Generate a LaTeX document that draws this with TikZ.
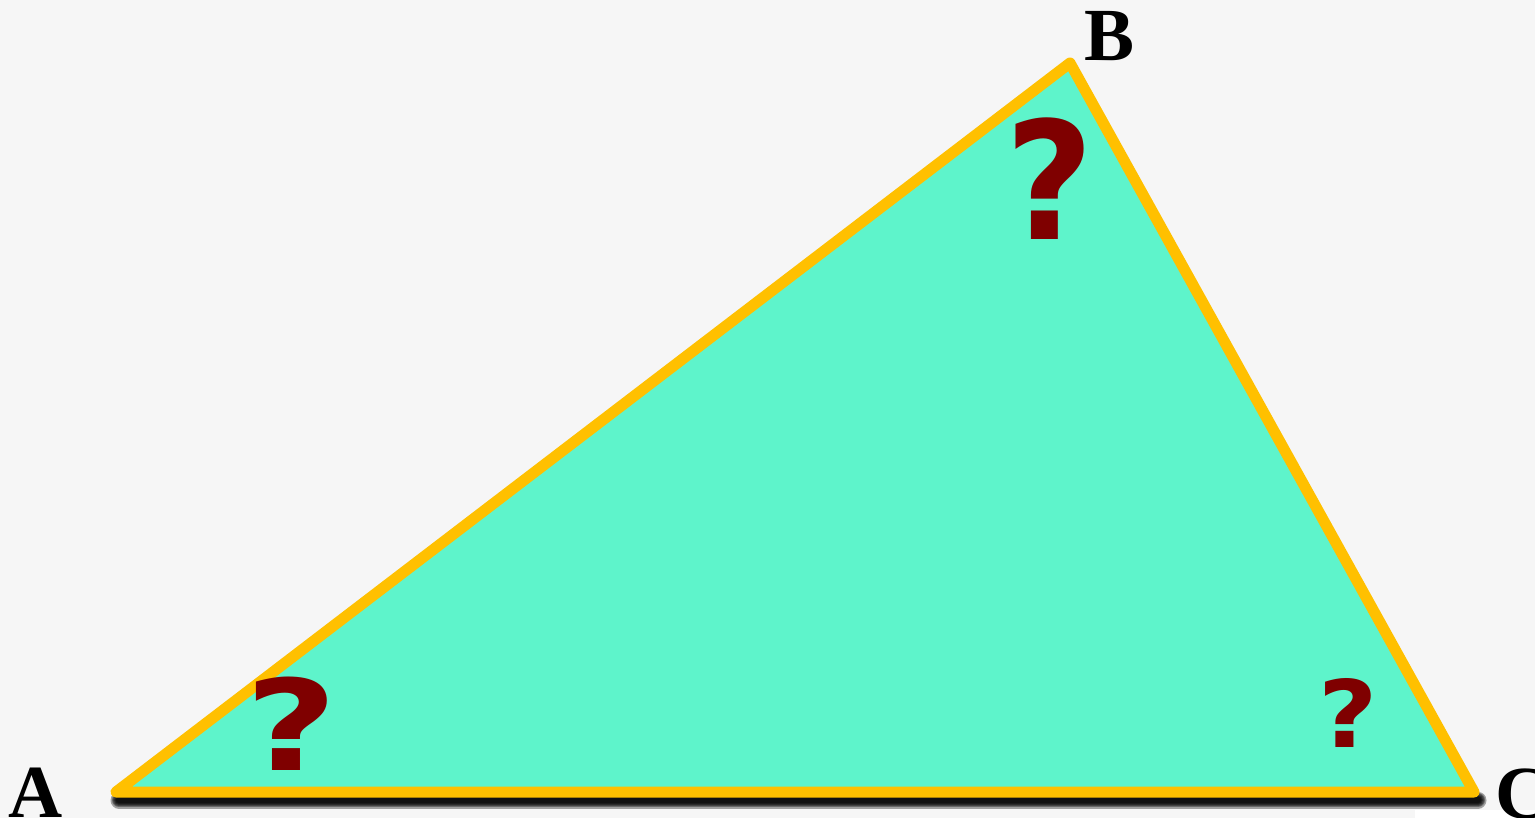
\documentclass[tikz,border=0pt]{standalone}
\usepackage{fontspec}
\setmainfont{Liberation Serif}
\newfontfamily\qfont{DejaVu Sans}
\definecolor{bgcol}{HTML}{F6F6F6}
\definecolor{tealfill}{HTML}{5EF4CB}
\definecolor{edgeyellow}{HTML}{FFC000}
\definecolor{qred}{HTML}{7F0000}
\tikzset{
  vlabel/.style={font=\fontsize{75}{75}\selectfont\bfseries, inner sep=0pt, anchor=base, text=black},
  qmark/.style={inner sep=0pt, anchor=base, text=qred},
  tri/.style={fill=tealfill, draw=edgeyellow, line width=11pt, line join=round},
  shadowline/.style={draw=black, line cap=round, opacity=0.35}
}
\begin{document}
\begin{tikzpicture}[x=1pt,y=-1pt]
\useasboundingbox (0,0) rectangle (1535,818);
\fill[bgcol] (0,0) rectangle (1535,818);
\fill[white] (1415,810) rectangle (1535,818);
\coordinate (A) at (116,792);
\coordinate (B) at (1070,63);
\coordinate (C) at (1474,792);
\coordinate (sA) at (119,800);
\coordinate (sC) at (1478,800);
% shadow under the base
\foreach \w in {17,14,12,10,8,6}{
  \draw[shadowline, line width=\w pt] (sA) -- (sC);
}
\draw[tri] (A) -- (B) -- (C) -- cycle;
\node[vlabel] (lA) at (36,817) {A};
\node[vlabel] (lB) at (1110,61) {B};
\node[vlabel, anchor=base west] (lC) at (1495,818) {C};
\node[qmark, xscale=1.26, font=\qfont\bfseries\fontsize{126}{126}\selectfont] (qA) at (292,770) {?};
\node[qmark, xscale=0.93, font=\qfont\bfseries\fontsize{164}{164}\selectfont] (qB) at (1050,240) {?};
\node[qmark, xscale=1.1, font=\qfont\bfseries\fontsize{93}{93}\selectfont] (qC) at (1348,747) {?};
\end{tikzpicture}
\end{document}
